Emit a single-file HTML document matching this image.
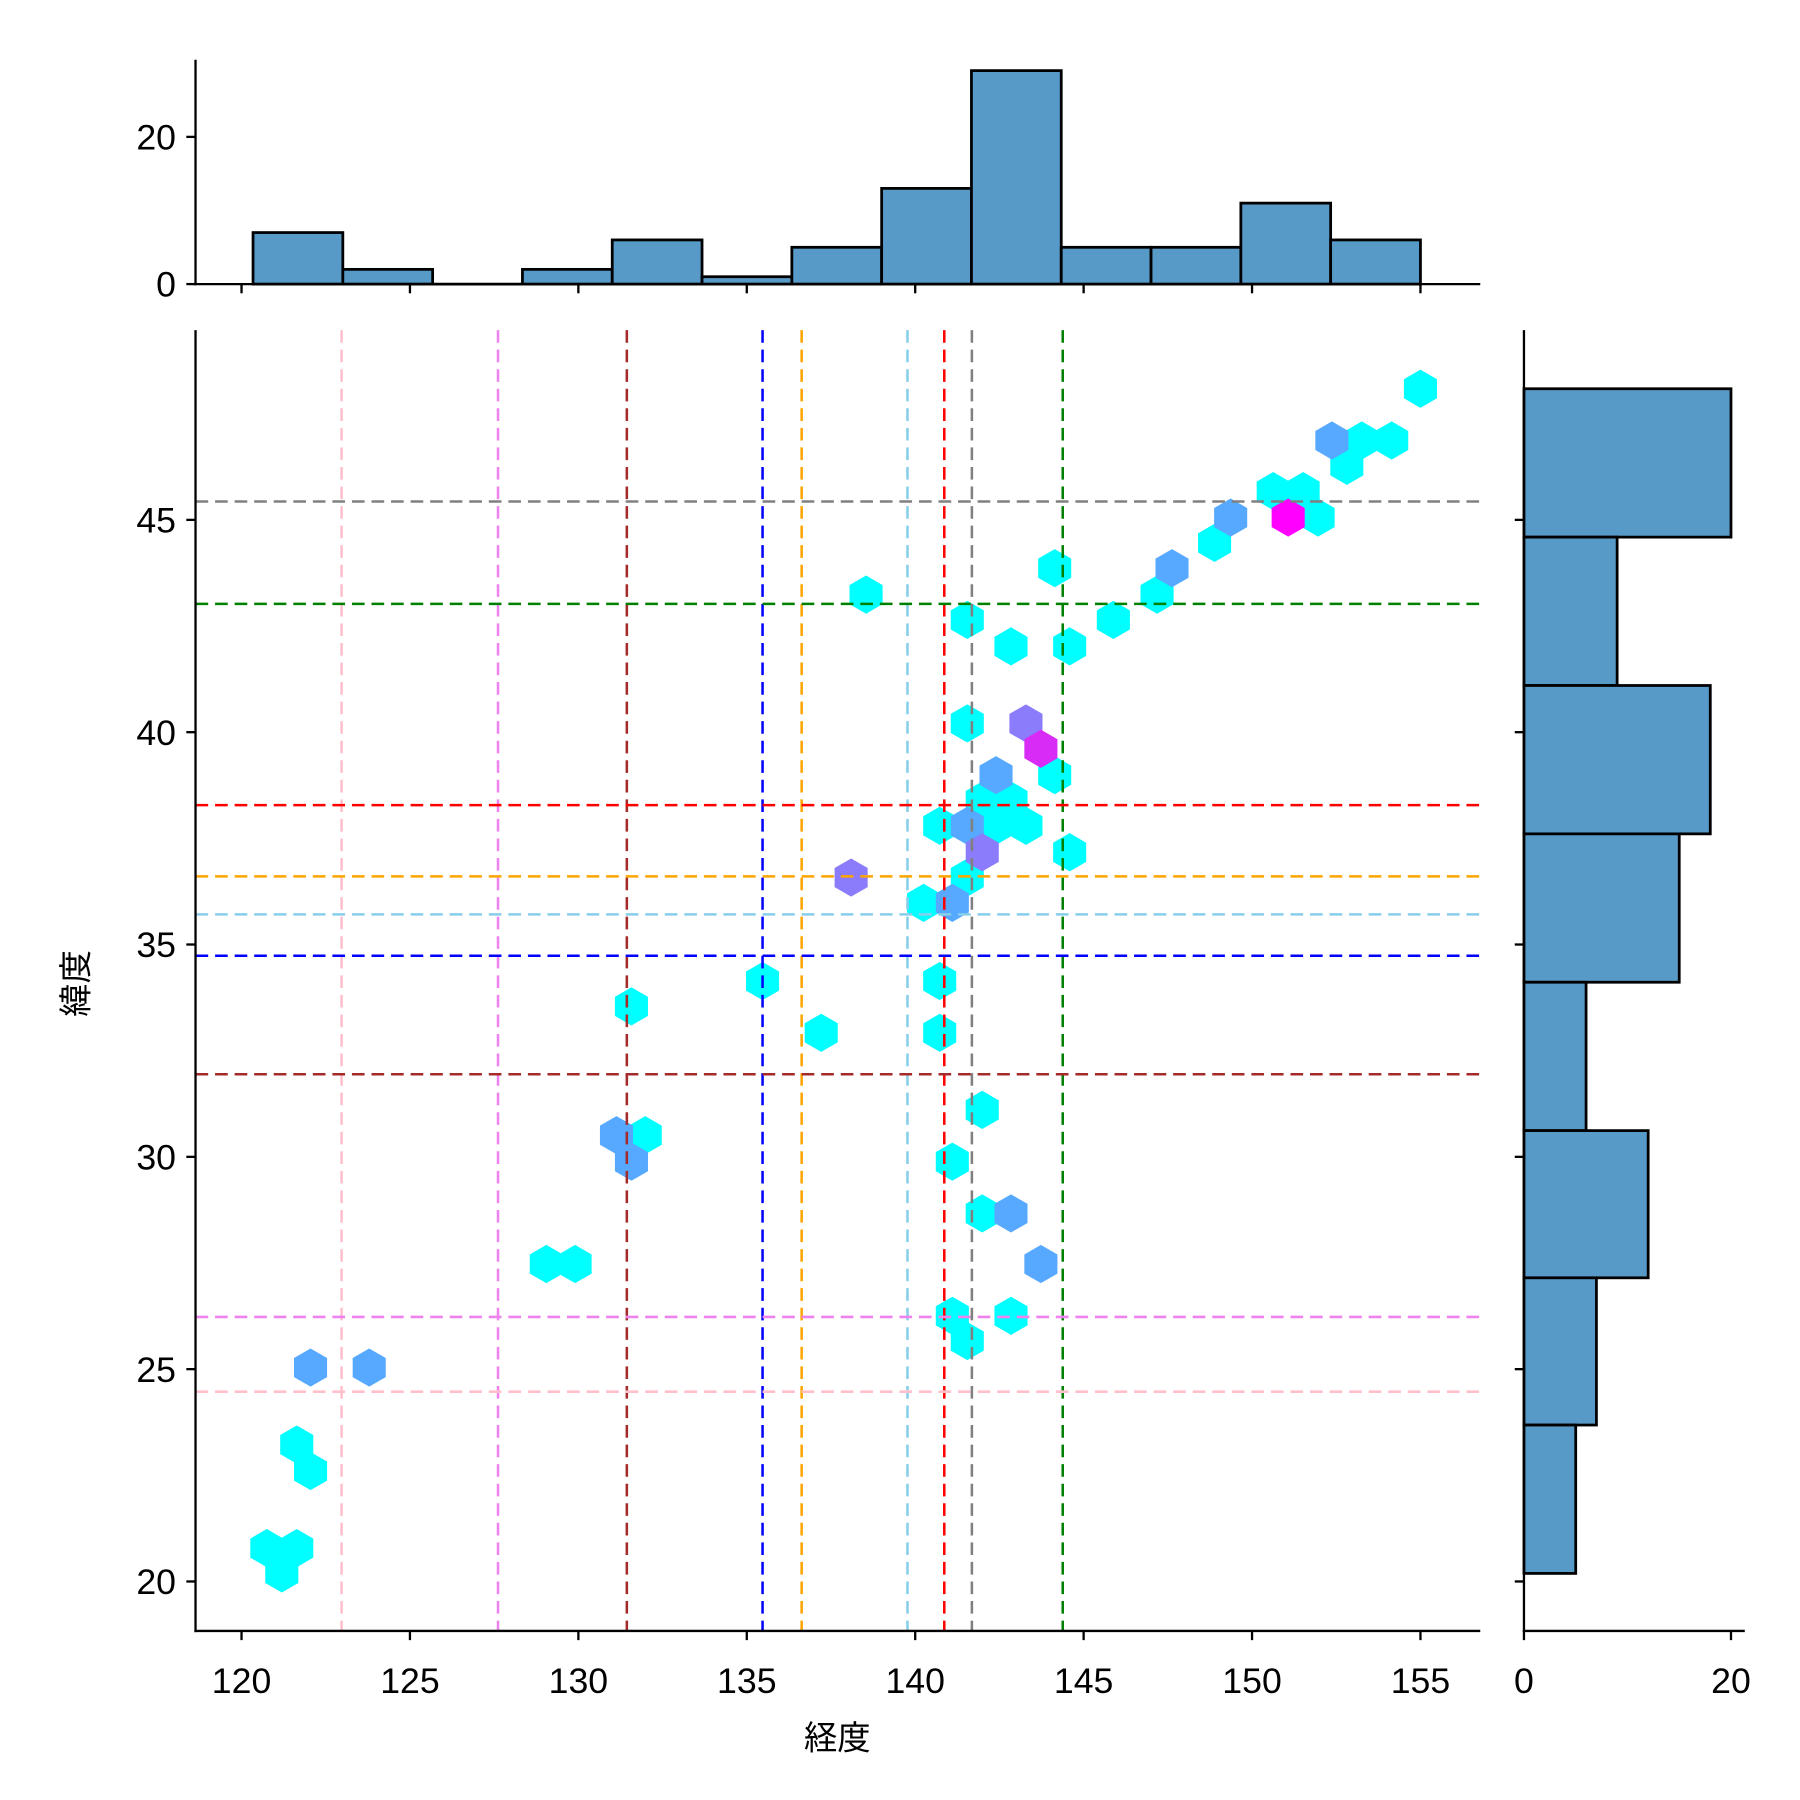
<!DOCTYPE html>
<html><head><meta charset="utf-8"><style>html,body{margin:0;padding:0;background:#fff}svg{display:block}</style></head>
<body>
<svg xmlns="http://www.w3.org/2000/svg" width="1800" height="1800" viewBox="0 0 1565 1565" font-family="Liberation Sans, Noto Sans CJK JP, sans-serif">
<rect width="1565" height="1565" fill="#fff"/>
<defs>
<polygon id="h" points="0,-16.6 14.38,-8.3 14.38,8.3 0,16.6 -14.38,8.3 -14.38,-8.3"/>
</defs>
<g id="hexes"></g>
<g id="lines" stroke-width="2.2" stroke-dasharray="11,6" fill="none"></g>
<g id="hist" fill="#5799c7" stroke="#000" stroke-width="2.4"></g>
<g stroke="#000" stroke-width="2" fill="none">
<line x1="170" y1="287" x2="170" y2="1419"/>
<line x1="169" y1="1418" x2="1287" y2="1418"/>
<line x1="170" y1="52" x2="170" y2="248"/>
<line x1="169" y1="247" x2="1287" y2="247"/>
<line x1="1325" y1="287" x2="1325" y2="1419"/>
<line x1="1324" y1="1418" x2="1517" y2="1418"/>
<g id="ticks"></g>
</g>
<g id="labels" font-size="31" fill="#000"></g>
<text x="728" y="1521" font-size="29" text-anchor="middle">経度</text>
<text transform="translate(76,855) rotate(-90)" font-size="29" text-anchor="middle">緯度</text>
<script>
const NS="http://www.w3.org/2000/svg";
function el(p,t,a,txt){const e=document.createElementNS(NS,t);for(const k in a)e.setAttribute(k,a[k]);if(txt!==undefined)e.textContent=txt;document.getElementById(p).appendChild(e);return e;}
const C="#00ffff",B="#57a9ff",P="#8a7cfb",M="#ff00ff",M2="#d82cf6";
const hx=[[1235,338,C],[1184,383,C],[1210,383,C],[1171,405,C],[1107,427,C],[1133,427,C],[1146,450,C],[1056,472,C],[1006,517,C],[917,494,C],[753,517,C],[968,539,C],[841,539,C],[879,562,C],[930,562,C],[841,629,C],[917,674,C],[854,696,C],[879,696,C],[817,718,C],[866,718,C],[892,718,C],[841,763,C],[930,741,C],[803,785,C],[663,853,C],[817,853,C],[714,898,C],[817,898,C],[549,875,C],[561,987,C],[854,965,C],[828,1010,C],[854,1055,C],[475,1099,C],[500,1099,C],[828,1144,C],[879,1144,C],[841,1166,C],[258,1256,C],[270,1279,C],[232,1346,C],[258,1346,C],[245,1368,C],
[1158,383,B],[1070,450,B],[1019,494,B],[866,674,B],[841,718,B],[828,785,B],[536,987,B],[549,1010,B],[879,1055,B],[905,1099,B],[270,1189,B],[321,1189,B],
[892,629,P],[854,741,P],[740,763,P],[1120,450,M],[905,651,M2]];
hx.forEach(h=>el("hexes","use",{href:"#h",x:h[0],y:h[1],fill:h[2]}));
const vl=[[297,"pink"],[433,"violet"],[545,"brown"],[663,"blue"],[697,"orange"],[789,"skyblue"],[821,"red"],[845,"gray"],[924,"green"]];
vl.forEach(v=>el("lines","line",{x1:v[0],x2:v[0],y1:287,y2:1418,stroke:v[1]}));
const hl=[[436,"gray"],[525,"green"],[700,"red"],[762,"orange"],[795,"skyblue"],[831,"blue"],[934,"brown"],[1145,"violet"],[1210,"pink"]];
hl.forEach(v=>el("lines","line",{y1:v[0],y2:v[0],x1:170,x2:1287,stroke:v[1]}));
const tc=[7,2,0,2,6,1,5,13,29,5,5,11,6];const w=(1235-220)/13;
tc.forEach((c,i)=>{if(c>0)el("hist","rect",{x:220+i*w,y:247-c*6.4,width:w,height:c*6.4});});
el("hist","line",{x1:376,x2:454,y1:247,y2:247});
const re=[338,467,596,725,854,983,1111,1239,1368];const rc=[20,9,18,15,6,12,7,5];
rc.forEach((c,i)=>el("hist","rect",{x:1325,y:re[i],width:c*9,height:re[i+1]-re[i]}));
for(let v=120;v<=155;v+=5){const x=210+(v-120)*29.286;el("ticks","line",{x1:x,x2:x,y1:1418,y2:1426});el("ticks","line",{x1:x,x2:x,y1:247,y2:255});el("labels","text",{x:x,y:1472,"text-anchor":"middle"},v);}
for(let v=20;v<=45;v+=5){const y=1375-(v-20)*36.92;el("ticks","line",{x1:162,x2:170,y1:y,y2:y});el("ticks","line",{x1:1317,x2:1325,y1:y,y2:y});el("labels","text",{x:153,y:y+11,"text-anchor":"end"},v);}
[[0,247],[20,119]].forEach(t=>{el("ticks","line",{x1:162,x2:170,y1:t[1],y2:t[1]});el("labels","text",{x:153,y:t[1]+11,"text-anchor":"end"},t[0]);});
[[0,1325],[20,1505]].forEach(t=>{el("ticks","line",{x1:t[1],x2:t[1],y1:1418,y2:1426});el("labels","text",{x:t[1],y:1472,"text-anchor":"middle"},t[0]);});
</script>
</svg>
</body></html>
